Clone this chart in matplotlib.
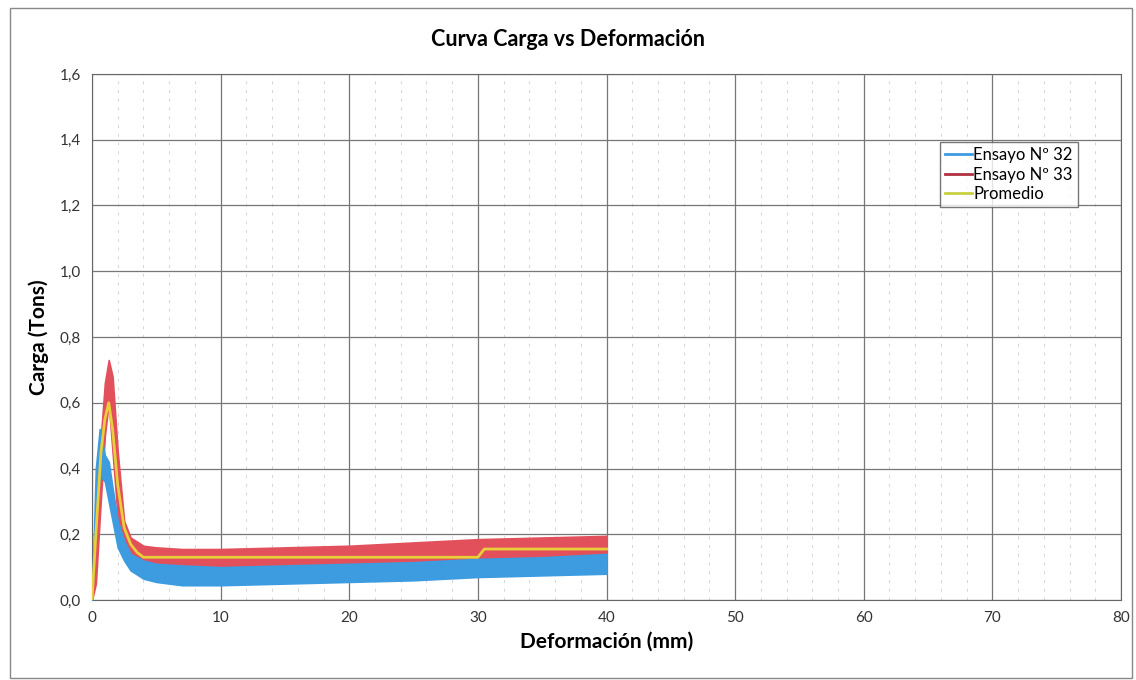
import matplotlib.pyplot as plt
from matplotlib.patches import Rectangle
from matplotlib.ticker import MultipleLocator, FuncFormatter

# envelopes (Deformación mm -> Carga Tons)
x_env = [0, 0.3, 0.6, 1.0, 1.3, 1.6, 2.0, 2.5, 3, 4, 5, 7, 10, 15, 20, 25, 30, 35, 40]

e32_low = [0, 0.25, 0.38, 0.36, 0.30, 0.24, 0.16, 0.12, 0.09, 0.065, 0.055, 0.045, 0.045, 0.05, 0.055, 0.06, 0.07, 0.075, 0.08]
e32_high = [0, 0.40, 0.52, 0.44, 0.42, 0.34, 0.24, 0.18, 0.14, 0.12, 0.11, 0.105, 0.10, 0.105, 0.11, 0.115, 0.125, 0.13, 0.14]

e33_low = [0, 0.05, 0.25, 0.50, 0.60, 0.45, 0.25, 0.17, 0.13, 0.105, 0.10, 0.095, 0.095, 0.10, 0.105, 0.11, 0.115, 0.12, 0.125]
e33_high = [0, 0.25, 0.45, 0.66, 0.73, 0.68, 0.45, 0.24, 0.19, 0.165, 0.16, 0.155, 0.155, 0.16, 0.165, 0.175, 0.185, 0.19, 0.195]

prom_x = [0, 0.3, 0.7, 1.0, 1.3, 1.6, 2.0, 2.5, 3.0, 3.5, 4.0, 30.0, 30.5, 40]
prom_y = [0, 0.2, 0.45, 0.55, 0.60, 0.52, 0.35, 0.22, 0.17, 0.145, 0.13, 0.13, 0.155, 0.155]

c32 = '#3d9be0'
c33 = '#e2505c'
cprom = '#e8cf3a'

plt.rcParams['font.family'] = ['Lato', 'DejaVu Sans']

fig = plt.figure(figsize=(11.36, 6.8), dpi=100)
ax = fig.add_axes([92 / 1136, 80 / 680, 1029 / 1136, 526 / 680])

fig.patches.append(Rectangle((10 / 1136, 2 / 680), 1122 / 1136, 670 / 680,
                             transform=fig.transFigure, fill=False,
                             edgecolor='#888888', linewidth=1.0))

ax.fill_between(x_env, e32_low, e32_high, color=c32, linewidth=1.2, edgecolor=c32, zorder=3)
ax.fill_between(x_env, e33_low, e33_high, color=c33, linewidth=1.2, edgecolor=c33, zorder=2)
ax.plot(prom_x, prom_y, color=cprom, linewidth=2, zorder=4)

# legend handles
ax.plot([], [], color=c32, linewidth=2, label='Ensayo Nº 32')
ax.plot([], [], color='#b03040', linewidth=2, label='Ensayo Nº 33')
ax.plot([], [], color='#c8d040', linewidth=2, label='Promedio')
leg = ax.legend(loc='upper right', bbox_to_anchor=(0.966, 0.886), fontsize=12,
                frameon=True, fancybox=False, edgecolor='#555555',
                handlelength=1.6, handletextpad=0.1, borderpad=0.3, labelspacing=0.2)
leg.get_frame().set_linewidth(1.0)

ax.set_xlim(0, 80)
ax.set_ylim(0, 1.6)
ax.xaxis.set_major_locator(MultipleLocator(10))
ax.xaxis.set_minor_locator(MultipleLocator(2))
ax.yaxis.set_major_locator(MultipleLocator(0.2))
ax.yaxis.set_major_formatter(FuncFormatter(lambda v, p: f'{v:.1f}'.replace('.', ',')))

ax.grid(which='major', color='#777777', linewidth=0.9)
ax.grid(which='minor', axis='x', color='#d4d4d4', linewidth=0.7, linestyle=(0, (3, 6)))
ax.set_axisbelow(True)
ax.tick_params(which='both', length=0, labelsize=11, labelcolor='#333333', pad=8)
for s in ax.spines.values():
    s.set_color('#666666')

fig.text(0.5, 1 - 40 / 680, 'Curva Carga vs Deformación', fontsize=15.5,
         fontweight='bold', ha='center', va='center')
ax.set_xlabel('Deformación (mm)', fontsize=15, fontweight='bold', labelpad=5)
ax.set_ylabel('Carga (Tons)', fontsize=15, fontweight='bold', labelpad=8)

fig.savefig('out.png', dpi=100)
